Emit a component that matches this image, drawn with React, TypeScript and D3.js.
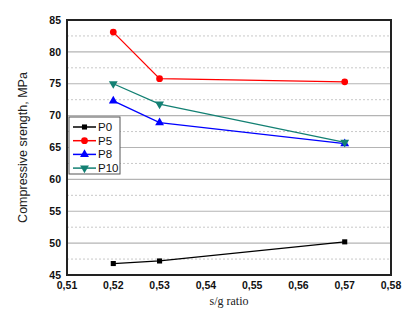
import React from 'react';
import * as d3 from 'd3';

const ratios = [0.52, 0.53, 0.57];
const seriesNames = ['P0', 'P5', 'P8', 'P10'];
const p0 = [46.8, 47.2, 50.2];
const p5 = [83.1, 75.8, 75.3];
const p8 = [72.3, 68.9, 65.6];
const p10 = [75.0, 71.8, 65.8];
const xTicks = [0.51, 0.52, 0.53, 0.54, 0.55, 0.56, 0.57, 0.58];
const yTicks = [45, 50, 55, 60, 65, 70, 75, 80, 85];

const colors = ['#000000', '#ff0000', '#0000ff', '#138073'];
const symbols = [d3.symbolSquare, d3.symbolCircle, d3.symbolTriangle, d3.symbolTriangle];

const W = 414, H = 324;
const m = { left: 67, right: 23, top: 20, bottom: 49 };

export default function App() {
  const x = d3.scaleLinear().domain([0.51, 0.58]).range([m.left, W - m.right]);
  const y = d3.scaleLinear().domain([45, 85]).range([H - m.bottom, m.top]);
  const all = [p0, p5, p8, p10];
  const line = d3.line<number>().x((_, i) => x(ratios[i])).y(d => y(d));
  const minor = d3.range(47.5, 85, 5);
  const fmt = (v: number) => v.toFixed(2).replace('.', ',');

  const marker = (k: number, cx: number, cy: number, key: string) => {
    const sizes = [26, 36, 34, 34];
    const path = d3.symbol(symbols[k], sizes[k])() as string;
    const rot = k === 3 ? ' rotate(180)' : '';
    return <path key={key} d={path} transform={`translate(${cx},${cy})${rot}`} fill={colors[k]} />;
  };

  return (
    <svg width={W} height={H} style={{ position: 'absolute', left: 0, top: 0, background: '#fff' }}>
      {minor.map(v => (
        <line key={'mn' + v} x1={m.left} x2={W - m.right} y1={y(v)} y2={y(v)} stroke="#c8c8c8" strokeWidth={1} strokeDasharray="2,2" />
      ))}
      {yTicks.map(v => (
        <line key={'mj' + v} x1={m.left} x2={W - m.right} y1={y(v)} y2={y(v)} stroke="#b4b4b4" strokeWidth={1.2} />
      ))}
      {all.map((s, k) => (
        <g key={'s' + k}>
          <path d={line(s) as string} fill="none" stroke={colors[k]} strokeWidth={1.3} />
          {s.map((v, i) => marker(k, x(ratios[i]), y(v), `m${k}-${i}`))}
        </g>
      ))}
      <rect x={m.left} y={m.top} width={W - m.left - m.right} height={H - m.top - m.bottom} fill="none" stroke="#222" strokeWidth={2} />
      {yTicks.map(v => (
        <text key={'yt' + v} x={m.left - 6} y={y(v)} dy="0.35em" textAnchor="end" fontFamily="Liberation Sans, Arial, sans-serif" fontSize={10.5} fontWeight="bold" fill="#111">{v}</text>
      ))}
      {xTicks.map(v => (
        <text key={'xt' + v} x={x(v)} y={H - m.bottom + 14} textAnchor="middle" fontFamily="Liberation Sans, Arial, sans-serif" fontSize={10.5} fontWeight="bold" fill="#111">{fmt(v)}</text>
      ))}
      <text transform={`translate(27,${(m.top + H - m.bottom) / 2}) rotate(-90)`} textAnchor="middle" fontFamily="Liberation Sans, Arial, sans-serif" fontSize={12.5} fill="#222">Compressive srength, MPa</text>
      <text x={(m.left + W - m.right) / 2} y={H - 19} textAnchor="middle" fontFamily="Liberation Serif, Times New Roman, serif" fontSize={12} fill="#222">s/g ratio</text>
      <g transform="translate(69,117)">
        <rect x={0} y={0} width={51} height={57} fill="#fff" stroke="#555" strokeWidth={1} />
        {seriesNames.map((n, k) => (
          <g key={'lg' + n} transform={`translate(0,${10 + k * 13.7})`}>
            <line x1={4} x2={27} y1={0} y2={0} stroke={colors[k]} strokeWidth={1.5} />
            {marker(k, 15.5, 0, 'lm' + k)}
            <text x={29} y={0} dy="0.35em" fontFamily="Liberation Sans, Arial, sans-serif" fontSize={11.5} fill="#111">{n}</text>
          </g>
        ))}
      </g>
    </svg>
  );
}
